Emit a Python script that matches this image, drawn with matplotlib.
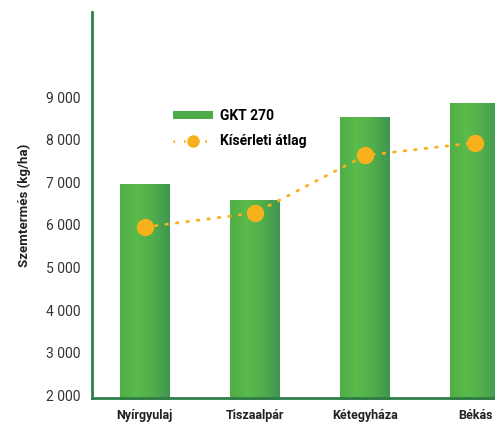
import numpy as np
import matplotlib
matplotlib.use("Agg")
import matplotlib.pyplot as plt
from matplotlib.patches import Patch
from matplotlib.lines import Line2D
from matplotlib.colors import LinearSegmentedColormap

plt.rcParams['font.family'] = ['Liberation Sans Narrow', 'Roboto', 'DejaVu Sans']

# data
helyek = ['Nyírgyulaj', 'Tiszaalpár', 'Kétegyháza', 'Békás']
gkt270 = [6950, 6580, 8540, 8850]
atlag = [5950, 6280, 7630, 7930]
yticks = [2000, 3000, 4000, 5000, 6000, 7000, 8000, 9000]
ytick_labels = ['2 000', '3 000', '4 000', '5 000', '6 000', '7 000', '8 000', '9 000']

green_dark = '#2f7d47'
dot_col = '#f7b11c'
grad = LinearSegmentedColormap.from_list('g', ['#4fae45', '#5bbb4b', '#52ad4c', '#3e9650'])

fig = plt.figure(figsize=(4.95, 4.25), dpi=100)
ax = fig.add_axes([0.186, 0.064, 0.814, 0.908])

x = np.arange(len(helyek))
w = 0.45
bars = ax.bar(x, gkt270, width=w, color='#56b44a', zorder=2)
g = np.linspace(0, 1, 64).reshape(1, -1)
for b in bars:
    x0, y0 = b.get_x(), 1900
    im = ax.imshow(g, cmap=grad, aspect='auto', zorder=2.1,
                   extent=[x0, x0 + b.get_width(), y0, b.get_height()])
    im.set_clip_path(b)

ax.plot(x, atlag, linestyle=(0, (0.6, 3.2)), dash_capstyle='round', lw=2,
        color=dot_col, zorder=3)
ax.plot(x, atlag, 'o', ms=11.5, color=dot_col, zorder=4)

ax.set_xlim(-0.48, 3.18)
ax.set_ylim(1940, 11000)
ax.set_yticks(yticks)
ax.set_yticklabels(ytick_labels, fontsize=10, color='#333333')
ax.set_xticks(x)
ax.set_xticklabels(helyek, fontsize=9, fontweight='bold', color='#222222')
ax.tick_params(length=0, pad=8)
ax.tick_params(axis='y', pad=8)
ax.set_ylabel('Szemtermés (kg/ha)', fontsize=9.5, fontweight='bold', labelpad=11, color='#222222')
for s in ['top', 'right']:
    ax.spines[s].set_visible(False)
for s in ['left', 'bottom']:
    ax.spines[s].set_color(green_dark)
    ax.spines[s].set_linewidth(2)

handles = [Patch(facecolor='#4cab47', edgecolor='none'),
           Line2D([0], [0], color=dot_col, lw=2, linestyle=(0, (0.6, 3.2)),
                  marker='o', ms=8)]
leg = ax.legend(handles, ['GKT 270', 'Kísérleti átlag'], loc='upper left',
                bbox_to_anchor=(0.17, 0.78), frameon=False, handlelength=2.9,
                handleheight=0.5, labelspacing=0.8, handletextpad=0.5,
                prop={'weight': 'bold', 'size': 10})

fig.savefig('out.png', dpi=100)
